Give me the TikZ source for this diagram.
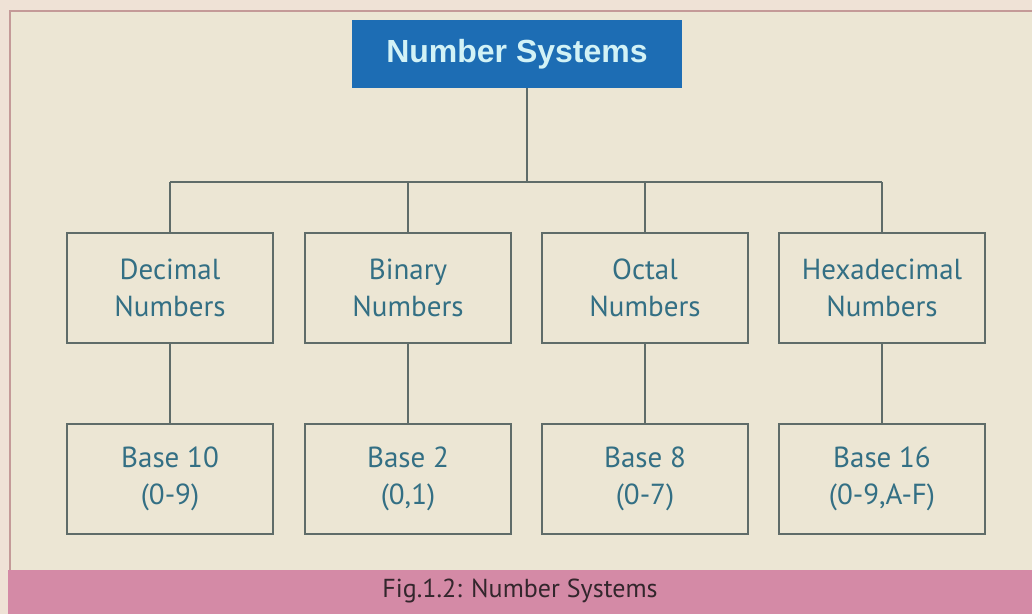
\documentclass[tikz,border=0pt]{standalone}
\usepackage{fontspec}
\setmainfont{PT Sans}
\newfontfamily\titlefont{Liberation Sans}
\usepackage{tikz}
\usetikzlibrary{positioning}
\usepackage{xcolor}
\definecolor{paper}{HTML}{ECE6D4}
\definecolor{edge}{HTML}{EFE2D6}
\definecolor{frameline}{HTML}{C49A98}
\definecolor{topblue}{HTML}{1D6DB4}
\definecolor{topink}{HTML}{D2F2F6}
\definecolor{boxline}{HTML}{5F6C69}
\definecolor{boxink}{HTML}{336F84}
\definecolor{band}{HTML}{D48AA6}
\definecolor{bandink}{HTML}{33262C}

\begin{document}
\begin{tikzpicture}[x=1pt,y=-1pt,
    numbox/.style={draw=boxline,line width=1.6pt,minimum width=206pt,minimum height=110pt,
      inner sep=0pt,align=center,text=boxink,font=\fontsize{29}{37}\selectfont},
    link/.style={draw=boxline,line width=1.6pt}]
        \useasboundingbox (0,0) rectangle (1032,614);
        \fill[edge] (0,0) rectangle (1032,614);
        \fill[paper] (10,11) rectangle (1032,570);
        \draw[frameline,line width=2pt] (1032,11) -- (10,11) -- (10,570);
        \fill[band] (8,570) rectangle (1032,614);
        \node[fill=topblue,minimum width=330pt,minimum height=68pt,inner sep=0pt,
          text=topink,font=\titlefont\bfseries\fontsize{32}{36}\selectfont] (sys) at (517,54) {Number Systems};
        \node[numbox] (dec) at (170,288) {Decimal\\Numbers};
        \node[numbox] (bin) at (408,288) {Binary\\Numbers};
        \node[numbox] (oct) at (645,288) {Octal\\Numbers};
        \node[numbox] (hex) at (882,288) {Hexadecimal\\Numbers};
        \node[numbox] (dbase) at (170,479) {Base 10\\(0-9)};
        \node[numbox] (bbase) at (408,479) {Base 2\\(0,1)};
        \node[numbox] (obase) at (645,479) {Base 8\\(0-7)};
        \node[numbox] (hbase) at (882,479) {Base 16\\(0-9,A-F)};
        \coordinate (bus) at (527,182);
        \draw[link] (bus) -- (bus |- sys.south);
        \draw[link] (dec.north |- bus) -- (hex.north |- bus);
        \draw[link] (dec.north) -- (dec.north |- bus);
        \draw[link] (bin.north) -- (bin.north |- bus);
        \draw[link] (oct.north) -- (oct.north |- bus);
        \draw[link] (hex.north) -- (hex.north |- bus);
        \draw[link] (dec) -- (dbase);
        \draw[link] (bin) -- (bbase);
        \draw[link] (oct) -- (obase);
        \draw[link] (hex) -- (hbase);
        \node[text=bandink,font=\fontsize{26}{30}\selectfont] (cap) at (520,591) {Fig.1.2: Number Systems};
      \end{tikzpicture}
\end{document}
